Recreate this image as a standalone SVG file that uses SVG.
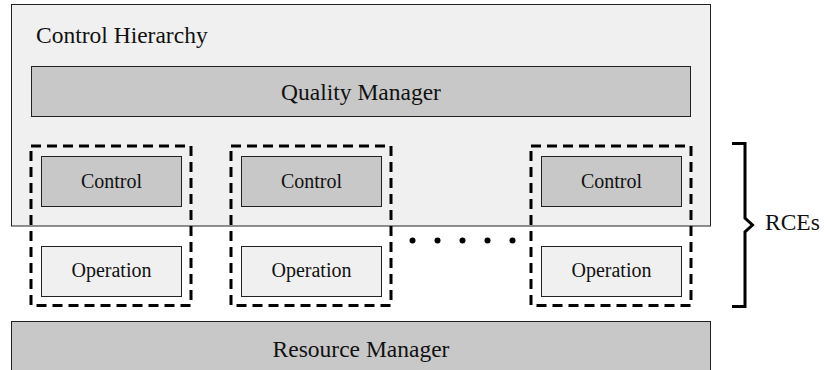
<svg xmlns="http://www.w3.org/2000/svg" width="824" height="370" viewBox="0 0 824 370">
  <style>
    text { font-family: "Liberation Serif", "Times New Roman", serif; fill: #111; }
    .mid { text-anchor: middle; }
    .big { font-size: 23.5px; }
    .small { font-size: 20px; }
    .light { fill: #f0f0f0; stroke: #222; stroke-width: 1; }
    .dark { fill: #c8c8c8; stroke: #222; stroke-width: 1; }
    .rce { fill: none; stroke: #000; stroke-width: 3; stroke-dasharray: 10 6; }
  </style>
  <rect width="824" height="370" fill="#fff"/>

  <!-- Control hierarchy container -->
  <g id="control-hierarchy">
    <rect class="light" x="11.5" y="4.5" width="699" height="221.5"/>
    <text class="big" x="36" y="43">Control Hierarchy</text>
  </g>

  <g id="quality-manager">
    <rect class="dark" x="31.5" y="66.5" width="659" height="50"/>
    <text class="big mid" x="361" y="100">Quality Manager</text>
  </g>

  <!-- RCE 1 -->
  <g id="rce-1">
    <rect class="dark" x="41.5" y="156.5" width="140" height="50"/>
    <text class="small mid" x="111.5" y="188">Control</text>
    <rect class="light" x="41.5" y="246.5" width="140" height="50"/>
    <text class="small mid" x="111.5" y="277">Operation</text>
    <rect class="rce" x="31" y="146" width="160" height="159.5"/>
  </g>

  <!-- RCE 2 -->
  <g id="rce-2">
    <rect class="dark" x="241.5" y="156.5" width="140" height="50"/>
    <text class="small mid" x="311.5" y="188">Control</text>
    <rect class="light" x="241.5" y="246.5" width="140" height="50"/>
    <text class="small mid" x="311.5" y="277">Operation</text>
    <rect class="rce" x="231" y="146" width="160" height="159.5"/>
  </g>

  <!-- RCE n -->
  <g id="rce-n">
    <rect class="dark" x="541.5" y="156.5" width="140" height="50"/>
    <text class="small mid" x="611.5" y="188">Control</text>
    <rect class="light" x="541.5" y="246.5" width="140" height="50"/>
    <text class="small mid" x="611.5" y="277">Operation</text>
    <rect class="rce" x="531" y="146" width="160" height="159.5"/>
  </g>

  <!-- ellipsis between RCEs -->
  <g id="ellipsis" fill="#000">
    <circle cx="412.5" cy="240.5" r="3"/>
    <circle cx="437.5" cy="240.5" r="3"/>
    <circle cx="462.5" cy="240.5" r="3"/>
    <circle cx="487.5" cy="240.5" r="3"/>
    <circle cx="512.5" cy="240.5" r="3"/>
  </g>

  <!-- brace grouping the RCEs -->
  <g id="rces-brace">
    <path d="M732 143.5 H745 V218 L752.5 225 L745 232 V306.5 H732" fill="none" stroke="#000" stroke-width="3"/>
    <text class="big" x="765" y="230">RCEs</text>
  </g>

  <g id="resource-manager">
    <rect class="dark" x="11.5" y="321.5" width="699" height="60"/>
    <text class="big mid" x="361" y="357">Resource Manager</text>
  </g>
</svg>
